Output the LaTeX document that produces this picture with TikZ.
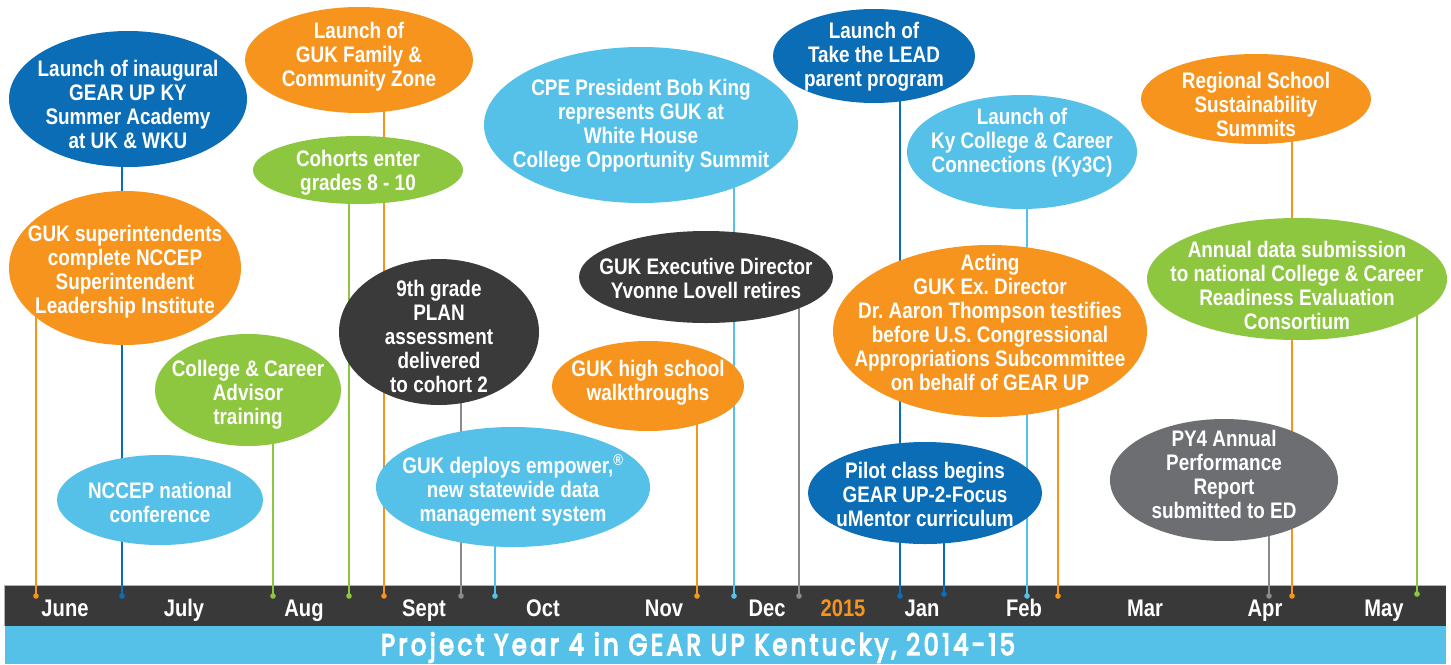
\documentclass[tikz,border=0pt]{standalone}
\usepackage{fontspec}
\setmainfont{Liberation Sans}
\newfontfamily\cf{Liberation Sans}[FakeStretch=0.84]
\newfontfamily\tf{Poppins}[LetterSpace=14, FakeBold=5]
\usetikzlibrary{shapes.geometric}
\frenchspacing
\definecolor{gorange}{HTML}{F7941D}
\definecolor{gblue}{HTML}{0B6DB6}
\definecolor{glight}{HTML}{55C1E9}
\definecolor{ggreen}{HTML}{8DC63F}
\definecolor{gdark}{HTML}{3A3A3A}
\definecolor{ggray}{HTML}{6D6E71}
\definecolor{gline}{HTML}{8A8A8C}
\definecolor{gbar}{HTML}{393939}
\pgfdeclarelayer{barlayer}
\pgfdeclarelayer{linelayer}
\pgfsetlayers{barlayer,linelayer,main}
\tikzset{
  ev/.style={ellipse, inner sep=0pt, draw=none},
  tx/.style={inner sep=0pt, text=white, align=center, font=\cf\bfseries\fontsize{22.5}{24}\selectfont},
  conn/.style={line width=1.5pt},
  month/.style={anchor=base, text=white, font=\cf\bfseries\fontsize{24}{26}\selectfont},
}
\newcommand\evt[8]{%
  \node[ev, fill=#2, minimum width=2*#5, minimum height=2*#6] (#1) at (#3,#4) {};
  \node[tx] (#1-t) at (#3,#8+1.5) {#7};
}
\newcommand\con[5]{%
  \coordinate (#2) at (#3,#5);
  \begin{pgfonlayer}{linelayer}
    \draw[conn, draw=#4] (#2 |- #1.center) -- (#2);
    \fill[#4] (#2) circle[radius=2.8pt];
  \end{pgfonlayer}
}
\begin{document}
\begin{tikzpicture}[x=1pt, y=-1pt]
\useasboundingbox (0,0) rectangle (1451,664);
% bars
\begin{pgfonlayer}{barlayer}
  \fill[white] (0,0) rectangle (1451,664);
  \fill[gbar] (4,585) rectangle (1446,626);
  \draw[gray!60, line width=0.8pt] (4,626) -- (4,585) -- (1446,585);
  \fill[glight] (5,626) rectangle (1446,664);
\end{pgfonlayer}
\node[month] (m1) at (65,616) {June};
\node[month] (m2) at (184,616) {July};
\node[month] (m3) at (304,616) {Aug};
\node[month] (m4) at (424,616) {Sept};
\node[month] (m5) at (543,616) {Oct};
\node[month] (m6) at (664,616) {Nov};
\node[month] (m7) at (767,616) {Dec};
\node[month, text=gorange] (m8) at (843,616) {2015};
\node[month] (m9) at (922,616) {Jan};
\node[month] (m10) at (1024,616) {Feb};
\node[month] (m11) at (1145,616) {Mar};
\node[month] (m12) at (1265,616) {Apr};
\node[month] (m13) at (1384,616) {May};
\node[anchor=base, text=white, inner sep=0pt] (title) at (698,655)
  {\resizebox{634pt}{22.5pt}{\tf\fontsize{30}{32}\selectfont Project Year 4 in GEAR UP Kentucky, 2014-15}};
% events
\evt{A}{gblue}{128}{99}{119}{68}{Launch of inaugural\\GEAR UP KY\\Summer Academy\\at UK \& WKU}{103}
\evt{B}{gorange}{125}{268}{116}{77}{GUK superintendents\\complete NCCEP\\Superintendent\\Leadership Institute}{270}
\evt{C}{gorange}{359}{60}{114}{53}{Launch of\\GUK Family \&\\Community Zone}{55}
\evt{D}{ggreen}{358}{170}{105}{34}{Cohorts enter\\grades 8 - 10}{171}
\evt{E}{gdark}{439}{332}{100}{73}{9th grade\\PLAN\\assessment\\delivered\\to cohort 2}{335}
\evt{F}{ggreen}{248}{390}{93}{56}{College \& Career\\Advisor\\training}{393}
\evt{G}{glight}{160}{500}{103}{45}{NCCEP national\\conference}{501}
\evt{H}{glight}{513}{487}{137}{60}{GUK deploys empower,\textsuperscript{®}\\new statewide data\\management system}{489}
\evt{W}{gorange}{648}{386}{96}{45}{GUK high school\\walkthroughs}{381}
\evt{CPE}{glight}{641}{125}{157}{78}{CPE President Bob King\\represents GUK at\\White House\\College Opportunity Summit}{124}
\evt{X}{gdark}{706}{277}{127}{46}{GUK Executive Director\\Yvonne Lovell retires}{277}
\evt{L}{gblue}{874}{56}{101}{47}{Launch of\\Take the LEAD\\parent program}{55}
\evt{K}{glight}{1022}{152}{115}{57}{Launch of\\Ky College \& Career\\Connections (Ky3C)}{141}
\evt{T}{gorange}{990}{331}{157}{86}{Acting\\GUK Ex. Director\\Dr. Aaron Thompson testifies\\before U.S. Congressional\\Appropriations Subcommittee\\on behalf of GEAR UP}{321}
\evt{P}{gblue}{925}{493}{117}{51}{Pilot class begins\\GEAR UP-2-Focus\\uMentor curriculum}{493}
\evt{R}{gorange}{1256}{99}{115}{45}{Regional School\\Sustainability\\Summits}{103}
\evt{N}{ggreen}{1297}{279}{150}{61}{Annual data submission\\to national College \& Career\\Readiness Evaluation\\Consortium}{284}
\evt{Y}{ggray}{1224}{480}{114}{61}{PY4 Annual\\Performance\\Report\\submitted to ED}{473}
% connectors
\con{B}{dB}{36}{gorange}{596}
\con{A}{dA}{122}{gblue}{596}
\con{F}{dF}{273}{ggreen}{596}
\con{D}{dD}{349}{ggreen}{596}
\con{C}{dC}{384}{gorange}{596}
\con{E}{dE}{461}{gline}{596}
\con{H}{dH}{495}{glight}{596}
\con{W}{dW}{697}{gorange}{596}
\con{CPE}{dCPE}{734}{glight}{596}
\con{X}{dX}{799}{gline}{596}
\con{L}{dL}{900}{gblue}{596}
\con{P}{dP}{944}{gblue}{594}
\con{K}{dK}{1027}{glight}{596}
\con{T}{dT}{1058}{gorange}{596}
\con{Y}{dY}{1269}{gline}{596}
\con{R}{dR}{1292}{gorange}{596}
\con{N}{dN}{1417}{ggreen}{594}
\end{tikzpicture}
\end{document}
